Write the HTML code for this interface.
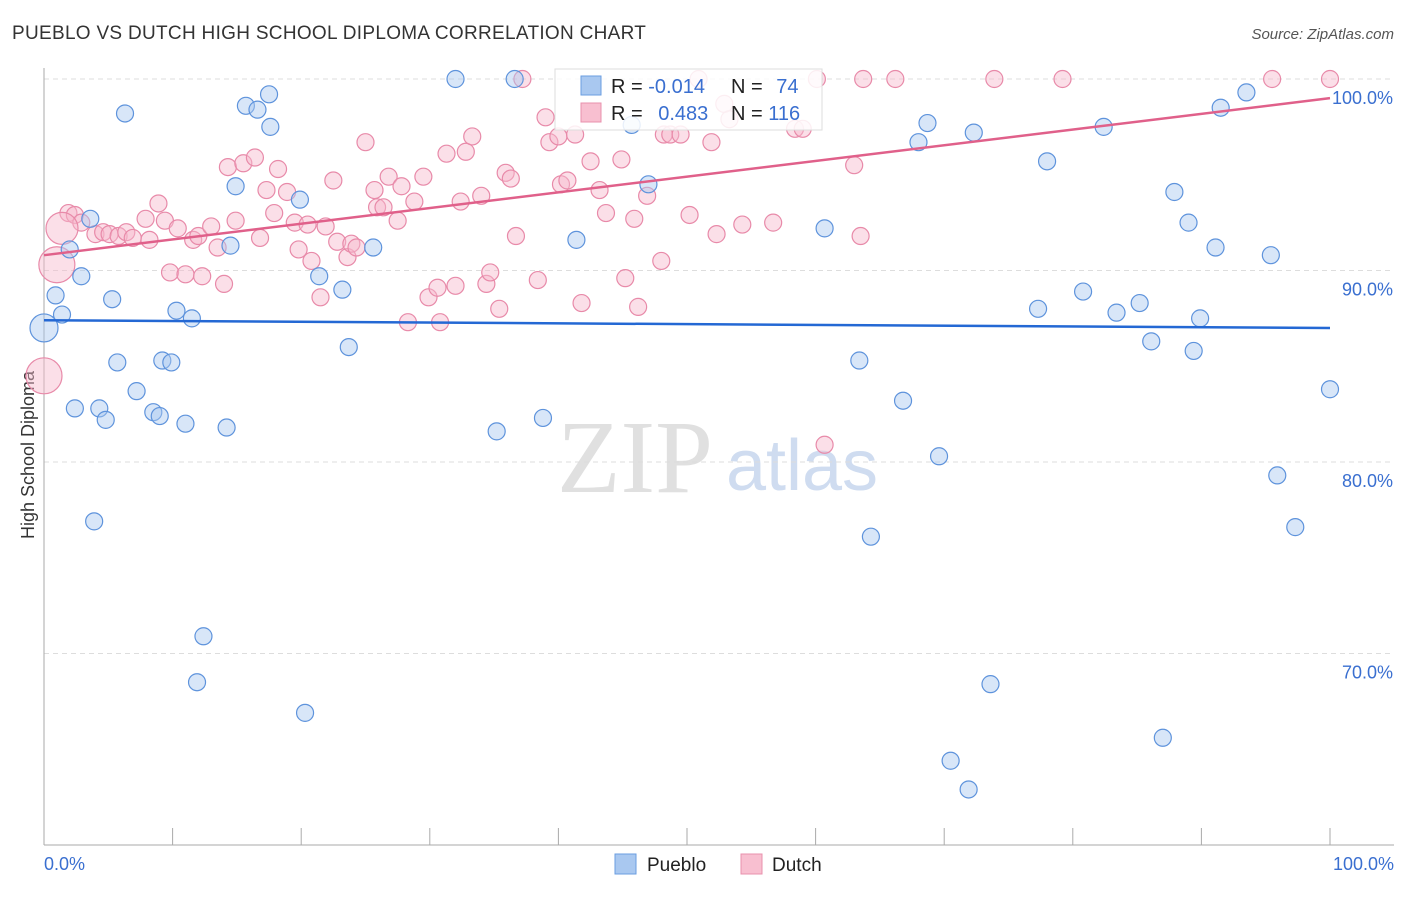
<!DOCTYPE html>
<html><head><meta charset="utf-8"><style>
body{margin:0;background:#fff;font-family:"Liberation Sans",sans-serif}
svg text{font-family:"Liberation Sans",sans-serif}
svg text.serif{font-family:"Liberation Serif",serif}
</style></head><body>
<svg id="chart" width="1406" height="892">
<text x="12" y="39" font-size="19" fill="#333" letter-spacing="0.3">PUEBLO VS DUTCH HIGH SCHOOL DIPLOMA CORRELATION CHART</text>
<text x="1394" y="39" font-size="15" fill="#555" text-anchor="end" font-style="italic">Source: ZipAtlas.com</text>
<text x="34" y="455" font-size="18" fill="#333" text-anchor="middle" transform="rotate(-90 34 455)">High School Diploma</text>
<g id="watermark">
<text class="serif" x="635" y="492" font-size="104" fill="#e0e0e0" text-anchor="middle">ZIP</text>
<text x="802" y="490" font-size="72" fill="#cfdcf0" text-anchor="middle">atlas</text>
</g>
<g id="grid"></g><g id="axes"></g><g id="pts"></g><g id="trend"></g>
<g>
<rect x="555" y="69" width="267" height="61" fill="#fff" fill-opacity="0.85" stroke="#ddd"/>
<rect x="581" y="76" width="20" height="19" fill="#a9c8f0" stroke="#6a9ee0"/>
<rect x="581" y="103" width="20" height="19" fill="#f8bfd0" stroke="#e890ad"/>
<text x="611" y="93" font-size="20" fill="#222">R = <tspan fill="#3a6fd0">-0.014</tspan></text>
<text x="731" y="93" font-size="20" fill="#222">N = <tspan fill="#3a6fd0" dx="8">74</tspan></text>
<text x="611" y="120" font-size="20" fill="#222">R = <tspan fill="#3a6fd0" dx="10">0.483</tspan></text>
<text x="731" y="120" font-size="20" fill="#222">N = <tspan fill="#3a6fd0">116</tspan></text>
</g>
<g>
<rect x="615" y="854" width="21" height="20" fill="#a9c8f0" stroke="#6a9ee0"/>
<text x="647" y="871" font-size="19" fill="#222">Pueblo</text>
<rect x="741" y="854" width="21" height="20" fill="#f8bfd0" stroke="#e890ad"/>
<text x="772" y="871" font-size="19" fill="#222">Dutch</text>
</g>
</svg>
<script>
const yTicks=[100,90,80,70];
const xLabels=["0.0%","100.0%"];
const pueblo=[[6.3,98.2],[15.7,98.6],[17.5,99.2],[16.6,98.4],[17.6,97.5],[32.0,100],[36.6,100],[14.9,94.4],[19.9,93.7],[3.6,92.7],[2.0,91.1],[14.5,91.3],[25.6,91.2],[2.9,89.7],[0.9,88.7],[5.3,88.5],[1.4,87.7],[10.3,87.9],[11.5,87.5],[21.4,89.7],[23.2,89.0],[23.7,86.0],[5.7,85.2],[9.2,85.3],[9.9,85.2],[7.2,83.7],[2.4,82.8],[4.3,82.8],[4.8,82.2],[8.5,82.6],[9.0,82.4],[11.0,82.0],[14.2,81.8],[3.9,76.9],[12.4,70.9],[11.9,68.5],[20.3,66.9],[35.2,81.6],[38.8,82.3],[41.4,91.6],[45.7,97.6],[47.0,94.5],[60.7,92.2],[63.4,85.3],[64.3,76.1],[66.8,83.2],[68.0,96.7],[68.7,97.7],[69.6,80.3],[70.5,64.4],[71.9,62.9],[72.3,97.2],[73.6,68.4],[77.3,88.0],[78.0,95.7],[80.8,88.9],[82.4,97.5],[83.4,87.8],[85.2,88.3],[86.1,86.3],[87.0,65.6],[87.9,94.1],[89.0,92.5],[89.4,85.8],[89.9,87.5],[91.1,91.2],[91.5,98.5],[93.5,99.3],[95.4,90.8],[95.9,79.3],[97.3,76.6],[100,83.8]];
const puebloBig=[[0,87.0]];
const dutch=[[1.9,93.0],[2.4,92.9],[2.9,92.5],[4.0,91.9],[4.6,92.0],[5.1,91.9],[5.8,91.8],[6.4,92.0],[6.9,91.7],[8.2,91.6],[7.9,92.7],[8.9,93.5],[9.4,92.6],[10.4,92.2],[9.8,89.9],[11.0,89.8],[11.6,91.6],[12.0,91.8],[12.3,89.7],[13.0,92.3],[13.5,91.2],[14.0,89.3],[14.3,95.4],[14.9,92.6],[15.5,95.6],[16.4,95.9],[16.8,91.7],[17.3,94.2],[18.2,95.3],[17.9,93.0],[18.9,94.1],[19.5,92.5],[19.8,91.1],[20.5,92.4],[20.8,90.5],[21.5,88.6],[21.9,92.3],[22.5,94.7],[22.8,91.5],[23.6,90.7],[23.9,91.4],[24.3,91.2],[25.0,96.7],[25.7,94.2],[25.9,93.3],[26.4,93.3],[26.8,94.9],[27.5,92.6],[27.8,94.4],[28.3,87.3],[28.8,93.6],[29.5,94.9],[29.9,88.6],[30.6,89.1],[30.8,87.3],[31.3,96.1],[32.0,89.2],[32.4,93.6],[32.8,96.2],[33.3,97.0],[34.0,93.9],[34.4,89.3],[34.7,89.9],[35.4,88.0],[35.9,95.1],[36.3,94.8],[36.7,91.8],[37.2,100],[38.4,89.5],[39.0,98.0],[39.3,96.7],[40.0,97.0],[40.2,94.5],[40.7,94.7],[41.3,97.1],[41.8,88.3],[42.5,95.7],[43.2,94.2],[43.7,93.0],[44.9,95.8],[45.2,89.6],[45.9,92.7],[46.2,88.1],[46.9,93.9],[48.0,90.5],[48.2,97.1],[48.7,97.1],[49.5,97.1],[50.2,92.9],[50.9,100],[51.9,96.7],[52.3,91.9],[52.9,98.7],[53.3,97.9],[54.3,92.4],[56.7,92.5],[58.4,97.4],[59.0,97.4],[60.1,100],[60.7,80.9],[63.0,95.5],[63.5,91.8],[63.7,100],[66.2,100],[73.9,100],[79.2,100],[95.5,100],[100,100]];
const dutchBig=[[1.4,92.2,16],[1.0,90.3,18],[0,84.5,18]];
const puebloTrend=[87.4,87.0];
const dutchTrend=[90.8,99.0];
const X=v=>44+v*12.86, Y=v=>79+(100-v)*19.15;
const NS="http://www.w3.org/2000/svg";
function mk(p,t,a){const e=document.createElementNS(NS,t);for(const k in a)e.setAttribute(k,a[k]);p.appendChild(e);return e;}
const grid=document.getElementById('grid'),axes=document.getElementById('axes'),pts=document.getElementById('pts'),tr=document.getElementById('trend');
yTicks.forEach(v=>{
 const l=mk(grid,'line',{x1:44,x2:1394,y1:Y(v),y2:Y(v),stroke:'#ddd','stroke-dasharray':'5,4'});
 
 
 const t=mk(grid,'text',{x:1393,y:Y(v)+25,'font-size':18,fill:'#3a6fd0','text-anchor':'end'});
 t.textContent=v.toFixed(1)+'%';
 
 
});
mk(axes,'line',{x1:44,x2:44,y1:68,y2:845,stroke:'#aaa'});
mk(axes,'line',{x1:44,x2:1394,y1:845,y2:845,stroke:'#aaa'});
for(let i=0;i<=10;i++){const tk=mk(axes,'line',{x1:X(i*10),x2:X(i*10),y1:828,y2:845,stroke:'#aaa'});
 
 }
const xl0=mk(axes,'text',{x:44,y:870,'font-size':18,fill:'#3a6fd0'});xl0.textContent=xLabels[0];


const xl1=mk(axes,'text',{x:1394,y:870,'font-size':18,fill:'#3a6fd0','text-anchor':'end'});xl1.textContent=xLabels[1];


function dot(d,r,fill,stroke,name){const c=mk(pts,'circle',{cx:X(d[0]),cy:Y(d[1]),r:r,fill:fill,'fill-opacity':0.45,stroke:stroke,'stroke-width':1.2});
 
 }
dutch.forEach(d=>dot(d,8.5,'#f7b8cc','#e88aa9','dutch-point'));
dutchBig.forEach(d=>dot(d,d[2],'#f7b8cc','#e88aa9','dutch-point'));
pueblo.forEach(d=>dot(d,8.5,'#a9c8f0','#5e93dc','pueblo-point'));
puebloBig.forEach(d=>dot(d,14,'#a9c8f0','#5e93dc','pueblo-point'));
const t1=mk(tr,'line',{x1:X(0),x2:X(100),y1:Y(puebloTrend[0]),y2:Y(puebloTrend[1]),stroke:'#2468d4','stroke-width':2.5});


const t2=mk(tr,'line',{x1:X(0),x2:X(100),y1:Y(dutchTrend[0]),y2:Y(dutchTrend[1]),stroke:'#e0608a','stroke-width':2.5});


</script>
</body></html>
